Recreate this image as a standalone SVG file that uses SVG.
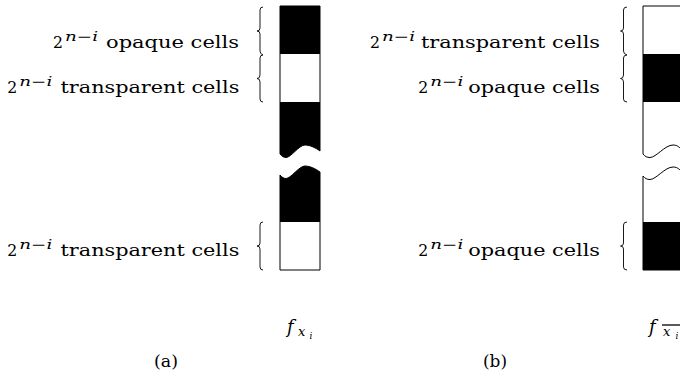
<svg xmlns="http://www.w3.org/2000/svg" width="680" height="387" viewBox="0 0 680 387">
<style>
.t{font-family:"DejaVu Serif","Liberation Serif",serif;font-size:17px;fill:#000}
.s{font-family:"DejaVu Serif","Liberation Serif",serif;font-style:italic;font-size:12.5px;fill:#000}
.m{font-family:"DejaVu Serif","Liberation Serif",serif;font-style:italic;fill:#000}
.br{fill:none;stroke:#000;stroke-width:0.9}
.col{fill:#fff;stroke:#000;stroke-width:1}
.blk{fill:#000;stroke:none}
</style>
<rect width="680" height="387" fill="#fff"/>

<g id="column-a">
  <path class="col" d="M280,6 H320 V151 C316,148 310,145 305,145 C299,145 291,157.5 286,157.5 C284,157.5 282,156.5 280,154 Z"/>
  <rect class="blk" x="280" y="6" width="40" height="48"/>
  <path class="blk" d="M280,102 H320 V151 C316,148 310,145 305,145 C299,145 291,157.5 286,157.5 C284,157.5 282,156.5 280,154 Z"/>
  <path class="col" d="M280,175 C282,177.5 284,178.5 286,178.5 C291,178.5 299,166 305,166 C310,166 316,169 320,172 V270 H280 Z"/>
  <path class="blk" d="M280,175 C282,177.5 284,178.5 286,178.5 C291,178.5 299,166 305,166 C310,166 316,169 320,172 V222 H280 Z"/>
</g>

<g id="column-b">
  <path class="col" d="M643,6 H690 V151 H683 C680,148 678,145 673,145 C665,145 656,157.5 650,157.5 C647,157.5 645,156.5 643,154 Z"/>
  <rect class="blk" x="643" y="54" width="47" height="48"/>
  <path class="col" d="M643,176 C645,178.5 647,179.5 650,179.5 C656,179.5 665,167 673,167 C678,167 680,170 683,173 H690 V270 H643 Z"/>
  <rect class="blk" x="643" y="222" width="47" height="48"/>
</g>

<g id="braces">
  <path class="br" d="M263,7 Q260,7 260,10 V28 Q260,31 257,31 Q260,31 260,34 V51 Q260,54 263,55"/>
  <path class="br" d="M263,55 Q260,55 260,58 V75 Q260,78.5 257,78.5 Q260,78.5 260,82 V99 Q260,102 263,102"/>
  <path class="br" d="M263,222 Q260,222 260,225 V243 Q260,246 257,246 Q260,246 260,249 V267 Q260,270 263,270"/>
  <path class="br" d="M627,7 Q623.5,7 623.5,10 V28 Q623.5,31 620.5,31 Q623.5,31 623.5,34 V51 Q623.5,54 627,55"/>
  <path class="br" d="M627,55 Q623.5,55 623.5,58 V75 Q623.5,78.5 620.5,78.5 Q623.5,78.5 623.5,82 V99 Q623.5,102 627,102"/>
  <path class="br" d="M627,222 Q623.5,222 623.5,225 V243 Q623.5,246 620.5,246 Q623.5,246 623.5,249 V267 Q623.5,270 627,270"/>
</g>

<g id="labels-a">
  <text class="t" x="53" y="48" textLength="10" lengthAdjust="spacingAndGlyphs">2</text>
  <text class="s" x="65" y="40.5" textLength="33" lengthAdjust="spacingAndGlyphs">n−i</text>
  <text class="t" x="106" y="48" textLength="133" lengthAdjust="spacingAndGlyphs">opaque cells</text>

  <text class="t" x="7.3" y="93" textLength="10" lengthAdjust="spacingAndGlyphs">2</text>
  <text class="s" x="19.3" y="85.5" textLength="33" lengthAdjust="spacingAndGlyphs">n−i</text>
  <text class="t" x="60.5" y="93" textLength="178.8" lengthAdjust="spacingAndGlyphs">transparent cells</text>

  <text class="t" x="7.3" y="256" textLength="10" lengthAdjust="spacingAndGlyphs">2</text>
  <text class="s" x="19.3" y="248.5" textLength="33" lengthAdjust="spacingAndGlyphs">n−i</text>
  <text class="t" x="60.5" y="256" textLength="178.8" lengthAdjust="spacingAndGlyphs">transparent cells</text>
</g>

<g id="labels-b">
  <text class="t" x="370" y="48" textLength="10" lengthAdjust="spacingAndGlyphs">2</text>
  <text class="s" x="382" y="40.5" textLength="33" lengthAdjust="spacingAndGlyphs">n−i</text>
  <text class="t" x="421" y="48" textLength="179" lengthAdjust="spacingAndGlyphs">transparent cells</text>

  <text class="t" x="418.3" y="93" textLength="10" lengthAdjust="spacingAndGlyphs">2</text>
  <text class="s" x="430.3" y="85.5" textLength="33" lengthAdjust="spacingAndGlyphs">n−i</text>
  <text class="t" x="468.3" y="93" textLength="131.7" lengthAdjust="spacingAndGlyphs">opaque cells</text>

  <text class="t" x="418.3" y="256" textLength="10" lengthAdjust="spacingAndGlyphs">2</text>
  <text class="s" x="430.3" y="248.5" textLength="33" lengthAdjust="spacingAndGlyphs">n−i</text>
  <text class="t" x="468.3" y="256" textLength="131.7" lengthAdjust="spacingAndGlyphs">opaque cells</text>
</g>

<g id="func-a">
  <text class="m" x="287" y="333" font-size="18">f</text>
  <text class="m" x="298" y="336" font-size="13">x</text>
  <text class="m" x="309.5" y="339" font-size="9">i</text>
</g>
<g id="func-b">
  <text class="m" x="649" y="333" font-size="18">f</text>
  <line x1="662" y1="325" x2="682" y2="325" stroke="#000" stroke-width="1.3"/>
  <text class="m" x="663" y="336" font-size="13">x</text>
  <text class="m" x="675.5" y="339" font-size="9">i</text>
</g>

<g id="captions">
  <text class="t" x="166" y="367" text-anchor="middle" textLength="24" lengthAdjust="spacingAndGlyphs">(a)</text>
  <text class="t" x="495" y="367" text-anchor="middle" textLength="24" lengthAdjust="spacingAndGlyphs">(b)</text>
</g>
</svg>
